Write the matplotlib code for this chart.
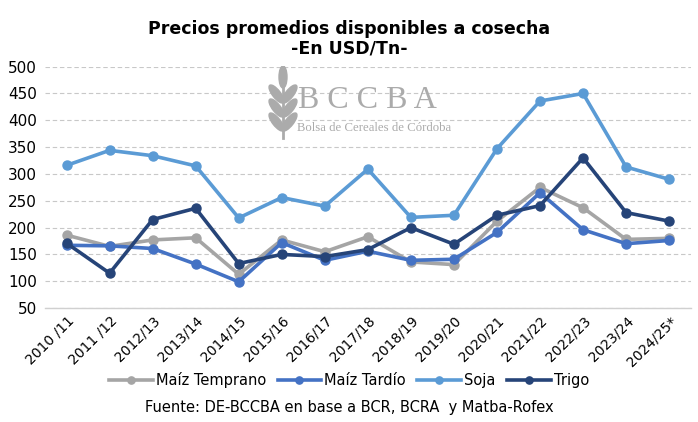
import matplotlib
matplotlib.use("Agg")
import matplotlib.pyplot as plt
from matplotlib.patches import Ellipse
import numpy as np

# Data
campanas = ["2010 /11", "2011 /12", "2012/13", "2013/14", "2014/15", "2015/16", "2016/17",
            "2017/18", "2018/19", "2019/20", "2020/21", "2021/22", "2022/23", "2023/24", "2024/25*"]
maiz_temprano = [186, 165, 177, 181, 113, 177, 155, 183, 136, 131, 212, 275, 237, 178, 180]
maiz_tardio = [167, 166, 161, 132, 99, 172, 139, 156, 139, 141, 191, 265, 196, 170, 176]
soja = [316, 344, 334, 315, 218, 256, 240, 309, 219, 223, 347, 436, 450, 313, 290]
trigo = [171, 115, 215, 236, 133, 150, 146, 159, 200, 169, 223, 241, 330, 228, 212]

series = [("Maíz Temprano", maiz_temprano, "#A5A5A5"),
          ("Maíz Tardío", maiz_tardio, "#4472C4"),
          ("Soja", soja, "#5B9BD5"),
          ("Trigo", trigo, "#264478")]

fig = plt.figure(figsize=(6.98, 4.22), dpi=100)
ax = fig.add_axes([0.0645, 0.27, 0.925, 0.572])

# logo watermark (wheat + text), drawn in pixel-like units
lax = fig.add_axes([268 / 698, 1 - 140 / 422, 30 / 698, 74 / 422])
lax.set_xlim(0, 30)
lax.set_ylim(0, 74)
lax.axis("off")
logo = "#ABABAB"
lax.plot([15, 15], [2, 56], color=logo, lw=2)
lax.add_patch(Ellipse((15, 63), 8, 22, color=logo))
for yy in [18, 32, 46]:
    lax.add_patch(Ellipse((8.5, yy), 8, 22, angle=38, color=logo))
    lax.add_patch(Ellipse((21.5, yy), 8, 22, angle=-38, color=logo))
fig.text(298 / 698, 1 - 101 / 422, "B C C B A", fontsize=23, family="Liberation Serif",
         color=logo, va="center", ha="left")
fig.text(297 / 698, 1 - 128 / 422, "Bolsa de Cereales de Córdoba", fontsize=9.2,
         family="Liberation Serif", color=logo, va="center", ha="left")

x = np.arange(len(campanas))
for name, vals, col in series:
    ax.plot(x, vals, color=col, lw=2.6, marker="o", markersize=6.5, label=name, zorder=3)

ax.set_ylim(50, 500)
ax.set_yticks(range(50, 501, 50))
ax.set_xlim(-0.5, len(campanas) - 0.5)
ax.set_xticks(x)
ax.set_xticklabels(campanas, rotation=45, ha="right", rotation_mode="anchor", fontsize=10)
ax.tick_params(axis="y", labelsize=11, length=0, pad=6)
ax.tick_params(axis="x", length=0, pad=4)
ax.grid(axis="y", color="#C8C8C8", linestyle=(0, (4, 2.5)), lw=0.8)
ax.set_axisbelow(True)
for s in ["top", "right", "left"]:
    ax.spines[s].set_visible(False)
ax.spines["bottom"].set_color("#D0D0D0")
ax.spines["bottom"].set_linewidth(1)

fig.text(0.5, 0.932, "Precios promedios disponibles a cosecha", ha="center", va="center",
         fontsize=12.5, fontweight="bold")
fig.text(0.5, 0.884, "-En USD/Tn-", ha="center", va="center", fontsize=12.5, fontweight="bold")

fig.legend(loc="center", bbox_to_anchor=(0.5, 0.1), ncol=4, frameon=False, fontsize=10.5,
           handlelength=3, handletextpad=0.2, columnspacing=0.8, markerscale=0.8)
fig.text(0.5, 0.034, "Fuente: DE-BCCBA en base a BCR, BCRA  y Matba-Rofex", ha="center",
         va="center", fontsize=10.5)

fig.savefig("out.png", dpi=100)
